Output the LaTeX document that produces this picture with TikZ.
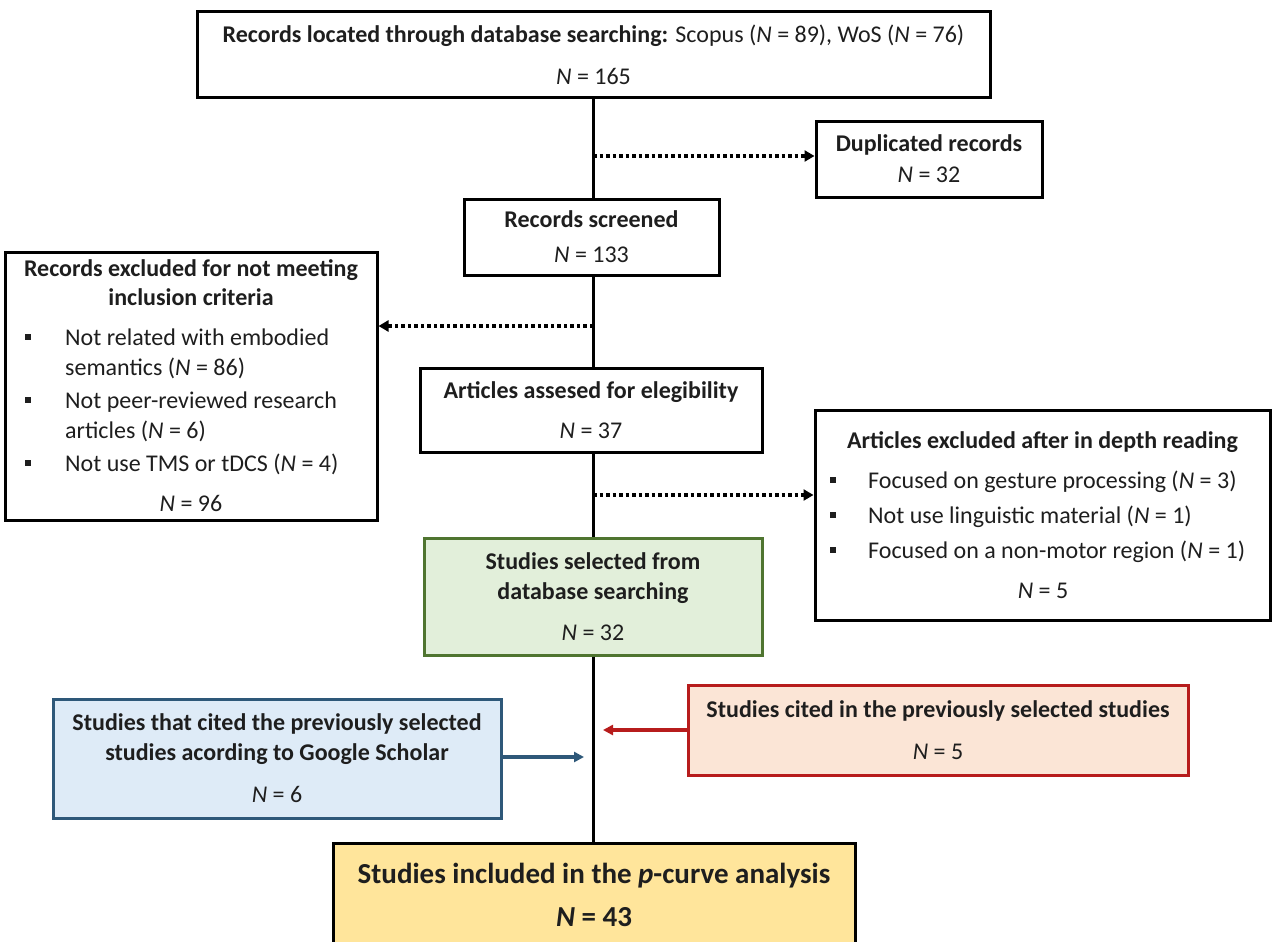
\documentclass[tikz,border=0pt]{standalone}
\usepackage{fontspec}
\setmainfont{Carlito}
\usetikzlibrary{arrows.meta,calc}
\definecolor{txtc}{HTML}{1E1E1E}
\definecolor{gfill}{HTML}{E2EFDA}
\definecolor{gdraw}{HTML}{4F7530}
\definecolor{bfill}{HTML}{DEEBF7}
\definecolor{bdraw}{HTML}{2E5879}
\definecolor{pfill}{HTML}{FBE5D6}
\definecolor{pdraw}{HTML}{B71C1C}
\definecolor{yfill}{HTML}{FFE59B}
\begin{document}
\begin{tikzpicture}[x=1pt,y=-1pt,
  every node/.style={font=\fontsize{24}{30}\selectfont, text=txtc},
  box/.style={draw=black, line width=3pt, fill=white, inner sep=0pt, align=center},
  txt/.style={inner sep=0pt, anchor=base west},
  ctxt/.style={inner sep=0pt, anchor=base},
  bul/.style={fill=txtc, minimum size=6pt, inner sep=0pt},
  spine/.style={line width=3pt, draw=black},
  dotarrow/.style={line width=3.5pt, dash pattern=on 3.5pt off 3pt, -{Triangle[length=10pt,width=11pt]}},
  blarrow/.style={line width=3.5pt, draw=bdraw, -{Triangle[length=10pt,width=10pt]}},
  rdarrow/.style={line width=3.5pt, draw=pdraw, -{Triangle[length=10pt,width=10pt]}}
]
\useasboundingbox (0,0) rectangle (1272,942);
\fill[white] (0,0) rectangle (1272,942);

% boxes
\node[box, minimum width=793pt, minimum height=85pt] (top) at (593.5,54.5)
  {\textbf{Records located through database searching:} Scopus (\textit{N} = 89), WoS (\textit{N} = 76)\\[12pt]\textit{N} = 165};
\node[box, minimum width=226pt, minimum height=76pt] (dup) at (929,159)
  {\textbf{Duplicated records}\\[1pt]\textit{N} = 32};
\node[box, minimum width=255pt, minimum height=76pt] (scr) at (591.5,237)
  {\textbf{Records screened}\\[5pt]\textit{N} = 133};
\node[box, minimum width=372pt, minimum height=268pt] (excl) at (191,386) {};
\node[box, minimum width=342pt, minimum height=84pt] (art) at (591,410)
  {\textbf{Articles assesed for elegibility}\\[10pt]\textit{N} = 37};
\node[box, minimum width=455pt, minimum height=210pt] (read) at (1042.5,515) {};
\node[box, draw=gdraw, fill=gfill, minimum width=338pt, minimum height=117pt] (sel) at (593,596.5)
  {\textbf{Studies selected from}\\\textbf{database searching}\\[11pt]\textit{N} = 32};
\node[box, draw=bdraw, fill=bfill, minimum width=448pt, minimum height=119pt] (gs) at (277,758.5)
  {\textbf{Studies that cited the previously selected}\\\textbf{studies acording to Google Scholar}\\[12pt]\textit{N} = 6};
\node[box, draw=pdraw, fill=pfill, minimum width=500pt, minimum height=90pt] (cit) at (938,730)
  {\textbf{Studies cited in the previously selected studies}\\[12pt]\textit{N} = 5};
\node[box, fill=yfill, minimum width=522pt, minimum height=103pt, font=\fontsize{29}{35}\selectfont] (inc) at (594,894.5)
  {\textbf{Studies included in the \textit{p}-curve analysis}\\[8pt]\textbf{\textit{N} = 43}};

% texts of the left box
\node[ctxt] (ex1) at (191,276) {\textbf{Records excluded for not meeting}};
\node[ctxt] (ex2) at (191,305) {\textbf{inclusion criteria}};
\node[bul] (exb1) at (28,337) {};
\node[txt] (ex3) at (65,345) {Not related with embodied};
\node[txt] (ex4) at (65,375) {semantics (\textit{N} = 86)};
\node[bul] (exb2) at (28,400) {};
\node[txt] (ex5) at (65,408) {Not peer-reviewed research};
\node[txt] (ex6) at (65,438) {articles (\textit{N} = 6)};
\node[bul] (exb3) at (28,463) {};
\node[txt] (ex7) at (65,471) {Not use TMS or tDCS (\textit{N} = 4)};
\node[ctxt] (exn) at (191,511) {\textit{N} = 96};

% texts of the right box
\node[ctxt] (rd1) at (1042.5,448) {\textbf{Articles excluded after in depth reading}};
\node[bul] (rdb1) at (833,480) {};
\node[txt] (rd2) at (868,488) {Focused on gesture processing (\textit{N} = 3)};
\node[bul] (rdb2) at (833,515) {};
\node[txt] (rd3) at (868,523) {Not use linguistic material (\textit{N} = 1)};
\node[bul] (rdb3) at (833,550) {};
\node[txt] (rd4) at (868,558) {Focused on a non-motor region (\textit{N} = 1)};
\node[ctxt] (rdn) at (1043,598) {\textit{N} = 5};

% spine
\coordinate (sx) at (593,0);
\draw[spine] (top.south -| sx) -- (scr.north -| sx);
\draw[spine] (scr.south -| sx) -- (art.north -| sx);
\draw[spine] (art.south -| sx) -- (sel.north -| sx);
\draw[spine] (sel.south -| sx) -- (inc.north -| sx);

% dotted arrows
\coordinate (d1) at (593,156);
\coordinate (d2) at (593,326);
\coordinate (d3) at (593,495);
\draw[dotarrow] (d1) -- (d1 -| dup.west);
\draw[dotarrow] (d2) -- (d2 -| excl.east);
\draw[dotarrow] (d3) -- (d3 -| read.west);

% coloured arrows
\coordinate (b1) at (584,757);
\coordinate (r1) at (603,730);
\draw[blarrow] (b1 -| gs.east) -- (b1);
\draw[rdarrow] (r1 -| cit.west) -- (r1);
\end{tikzpicture}
\end{document}
